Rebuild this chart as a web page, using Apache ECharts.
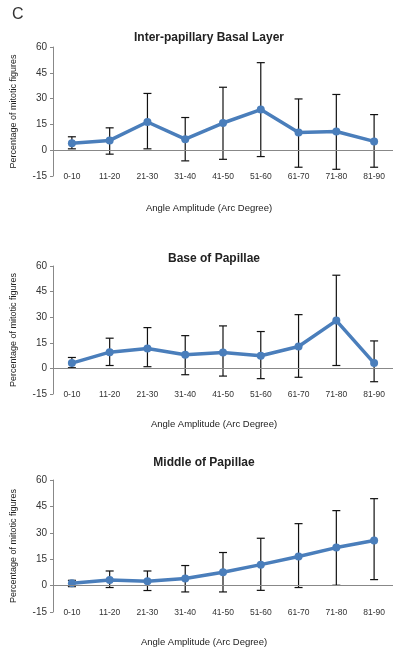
<!DOCTYPE html>
<html>
<head>
<meta charset="utf-8">
<script src="https://cdn.jsdelivr.net/npm/echarts@6/dist/echarts.min.js"></script>
<style>
  html, body { margin: 0; padding: 0; background: #fff; overflow: hidden; }
  #chart { width: 393px; height: 653px; }
</style>
</head>
<body>
<div id="chart"></div>
<script>
// categories & ticks
const categories = ['0-10', '11-20', '21-30', '31-40', '41-50', '51-60', '61-70', '71-80', '81-90'];
const yTicks = [-15, 0, 15, 30, 45, 60];

// Inter-papillary Basal Layer
const basalMean = [4.1, 5.7, 16.4, 6.4, 15.8, 23.6, 10.3, 10.9, 5.1];
const basalLow  = [0.8, -2.3, 0.8, -6.2, -5.3, -3.7, -9.9, -11.1, -9.9];
const basalHigh = [7.8, 13, 33, 19, 36.6, 50.9, 29.8, 32.4, 20.7];

// Base of Papillae
const baseMean = [3.1, 9.5, 11.7, 8, 9.3, 7.4, 12.8, 28, 3.1];
const baseLow  = [0.4, 1.7, 1, -3.7, -4.5, -6, -5.2, 1.7, -7.8];
const baseHigh = [6.4, 17.7, 23.9, 19.2, 24.9, 21.6, 31.5, 54.6, 16.1];

// Middle of Papillae
const midMean = [1.3, 3.2, 2.5, 4, 7.6, 11.9, 16.5, 21.6, 25.6];
const midLow  = [-0.6, -1.1, -2.8, -3.6, -3.6, -2.7, -1.1, 0.2, 3.4];
const midHigh = [3, 8.3, 8.3, 11.4, 18.8, 26.9, 35.2, 42.6, 49.4];

const panels = [
  { title: 'Inter-papillary Basal Layer', mean: basalMean, low: basalLow, high: basalHigh, top: 47, height: 129, titleX: 209, titleY: 38, nameY: 208 },
  { title: 'Base of Papillae', mean: baseMean, low: baseLow, high: baseHigh, top: 266, height: 128, titleX: 214, titleY: 259, nameY: 424 },
  { title: 'Middle of Papillae', mean: midMean, low: midLow, high: midHigh, top: 480, height: 132, titleX: 204, titleY: 463, nameY: 642 }
];

const FONT = 'Liberation Sans, Arial, sans-serif';
const BLUE = '#4A7EBB';
const myChart = echarts.init(document.getElementById('chart'));

let grids = [], xAxes = [], yAxes = [], series = [], texts = [];

panels.forEach((p, i) => {
  grids.push({ left: 53, right: -7, top: p.top, height: p.height });
  xAxes.push({
    type: 'category', gridIndex: i, data: categories,
    axisLine: { show: false }, axisTick: { show: false },
    axisLabel: { fontSize: 8.5, color: '#333', fontFamily: FONT, margin: -4, interval: 0 }
  });
  yAxes.push({
    type: 'value', gridIndex: i, min: yTicks[0], max: yTicks[yTicks.length - 1], interval: 15,
    axisLine: { show: true, lineStyle: { color: '#888', width: 1 } },
    axisTick: { show: true, length: 3, lineStyle: { color: '#888' } },
    splitLine: { show: false },
    axisLabel: { fontSize: 10, color: '#333', fontFamily: FONT, margin: 6 }
  });
  // error bars
  series.push({
    type: 'custom', xAxisIndex: i, yAxisIndex: i, z: 2,
    data: p.mean.map((m, k) => [k, p.low[k], p.high[k]]),
    renderItem: (params, api) => {
      const lo = api.coord([api.value(0), api.value(1)]);
      const hi = api.coord([api.value(0), api.value(2)]);
      const w = 4;
      const st = { stroke: '#111', lineWidth: 1.2 };
      return {
        type: 'group',
        children: [
          { type: 'line', shape: { x1: lo[0], y1: lo[1], x2: hi[0], y2: hi[1] }, style: st },
          { type: 'line', shape: { x1: lo[0] - w, y1: lo[1], x2: lo[0] + w, y2: lo[1] }, style: st },
          { type: 'line', shape: { x1: hi[0] - w, y1: hi[1], x2: hi[0] + w, y2: hi[1] }, style: st }
        ]
      };
    }
  });
  series.push({
    type: 'line', xAxisIndex: i, yAxisIndex: i, z: 3,
    data: p.mean,
    symbol: 'circle', symbolSize: 8,
    lineStyle: { color: BLUE, width: 3.5 },
    itemStyle: { color: BLUE },
    markLine: {
      silent: true, symbol: 'none', label: { show: false },
      lineStyle: { color: '#888', width: 1, type: 'solid' },
      data: [{ yAxis: 0 }]
    }
  });
  texts.push({
    type: 'text', x: p.titleX, y: p.titleY, z: 10,
    style: { text: p.title, font: 'bold 12px ' + FONT, fill: '#222', align: 'center', verticalAlign: 'middle' }
  });
  texts.push({
    type: 'text', x: p.titleX, y: p.nameY, z: 10,
    style: { text: 'Angle Amplitude (Arc Degree)', font: '9.5px ' + FONT, fill: '#222', align: 'center', verticalAlign: 'middle' }
  });
  texts.push({
    type: 'text', x: 14, y: p.top + p.height / 2, rotation: Math.PI / 2, z: 10,
    style: { text: 'Percentage of mitotic figures', font: '9px ' + FONT, fill: '#222', align: 'center', verticalAlign: 'middle' }
  });
});

texts.push({
  type: 'text', x: 12, y: 15,
  style: { text: 'C', font: '16px ' + FONT, fill: '#333', align: 'left', verticalAlign: 'middle' }
});

myChart.setOption({
  animation: false,
  backgroundColor: '#fff',
  grid: grids,
  xAxis: xAxes,
  yAxis: yAxes,
  series: series,
  graphic: { elements: texts }
});
</script>
</body>
</html>
